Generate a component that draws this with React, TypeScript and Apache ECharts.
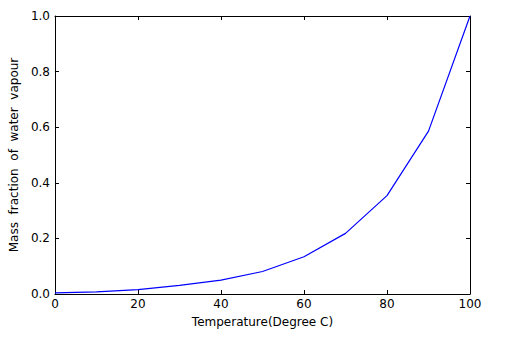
import React, { useEffect, useRef } from "react";
import * as echarts from "echarts";

const temperatures = [0, 10, 20, 30, 40, 50, 60, 70, 80, 90, 100];
const massFraction = [0.004, 0.008, 0.016, 0.031, 0.05, 0.081, 0.134, 0.218, 0.354, 0.586, 1.0];
const xTitle = "Temperature(Degree C)";
const yTitle = "Mass  fraction  of  water  vapour";

export default function App() {
  const ref = useRef<HTMLDivElement>(null);
  useEffect(() => {
    if (!ref.current) return;
    const chart = echarts.init(ref.current, undefined, { renderer: "svg" });
    const font = "DejaVu Sans";
    const axisLine = { show: true, onZero: false, lineStyle: { color: "#000", width: 1 } };
    const tick = { show: true, inside: true, length: 4, lineStyle: { color: "#000" } };
    chart.setOption({
      animation: false,
      backgroundColor: "#fff",
      grid: { left: 52, top: 16, width: 418, height: 278, containLabel: false },
      xAxis: [
        {
          type: "value", min: 0, max: 100, interval: 20,
          axisLine, axisTick: tick, splitLine: { show: false },
          axisLabel: { color: "#000", fontFamily: font, fontSize: 12, margin: 4 },
          name: xTitle, nameLocation: "middle", nameGap: 22,
          nameTextStyle: { color: "#000", fontFamily: font, fontSize: 12 },
        },
        {
          type: "value", position: "top", min: 0, max: 100, interval: 20,
          axisLine, axisTick: tick, splitLine: { show: false }, axisLabel: { show: false },
        },
      ],
      yAxis: [
        {
          type: "value", min: 0, max: 1, interval: 0.2,
          axisLine, axisTick: tick, splitLine: { show: false },
          axisLabel: { color: "#000", fontFamily: font, fontSize: 12, margin: 5, formatter: (v: number) => v.toFixed(1) },
          name: yTitle, nameLocation: "middle", nameGap: 33,
          nameTextStyle: { color: "#000", fontFamily: font, fontSize: 12 },
        },
        {
          type: "value", position: "right", min: 0, max: 1, interval: 0.2,
          axisLine, axisTick: tick, splitLine: { show: false }, axisLabel: { show: false },
        },
      ],
      series: [
        {
          type: "line",
          data: temperatures.map((t, i) => [t, massFraction[i]]),
          showSymbol: false,
          symbol: "none",
          lineStyle: { color: "#0000ff", width: 1.2 },
          z: 1,
        },
      ],
    });
    return () => chart.dispose();
  }, []);
  return <div ref={ref} style={{ width: 507, height: 346, position: "absolute", left: 0, top: 0 }} />;
}
